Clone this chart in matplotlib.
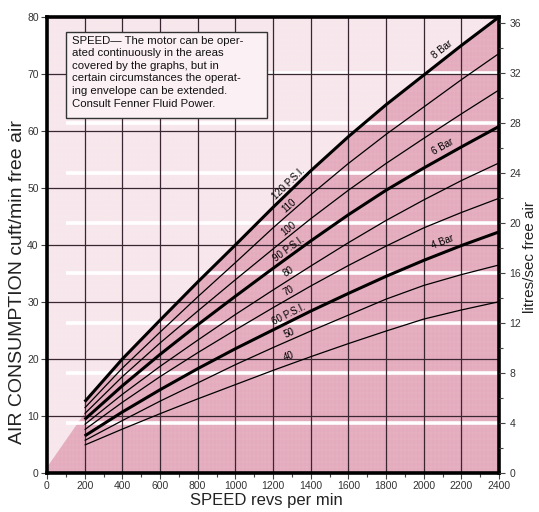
import matplotlib
matplotlib.use("Agg")
import matplotlib.pyplot as plt
from matplotlib.patches import Rectangle, Polygon
from matplotlib.ticker import MultipleLocator
import numpy as np

# ---------------- data ----------------
speed_rpm = [200, 400, 600, 800, 1000, 1200, 1400, 1600, 1800, 2000, 2200, 2400]
cfm_120psi = [12.5, 20.0, 26.8, 33.5, 40.0, 46.6, 53.0, 59.0, 64.6, 69.8, 75.0, 80.0]
cfm_110psi = [11.4, 18.4, 24.7, 30.9, 36.9, 43.0, 48.8, 54.3, 59.4, 64.2, 69.0, 73.6]
cfm_100psi = [10.4, 16.9, 22.8, 28.4, 33.9, 39.3, 44.6, 49.6, 54.3, 58.7, 63.0, 67.2]
cfm_90psi = [9.4, 15.3, 20.8, 26.0, 31.0, 35.9, 40.7, 45.3, 49.6, 53.5, 57.2, 60.8]
cfm_80psi = [8.5, 13.8, 18.7, 23.3, 27.8, 32.1, 36.3, 40.4, 44.3, 47.9, 51.3, 54.4]
cfm_70psi = [7.6, 12.4, 16.9, 21.1, 25.1, 29.0, 32.8, 36.4, 39.8, 43.0, 45.7, 48.2]
cfm_60psi = [6.5, 10.7, 14.6, 18.3, 21.8, 25.1, 28.4, 31.5, 34.5, 37.3, 39.9, 42.3]
cfm_50psi = [5.7, 9.2, 12.6, 15.8, 19.0, 22.0, 24.9, 27.7, 30.5, 32.9, 34.8, 36.5]
cfm_40psi = [4.9, 7.7, 10.4, 13.0, 15.5, 18.0, 20.4, 22.7, 24.9, 27.0, 28.6, 30.05]

psi_labels = ["120 P.S.I.", "110", "100", "90 P.S.I.", "80", "70", "60 P.S.I.", "50", "40"]
bar_labels = {"8 Bar": 0, "6 Bar": 3, "4 Bar": 6}

# operating envelope lower-left edge (rpm, cfm)
env_x = [0, 0, 200, 200]
env_y = [0, 1.0, 10.5, 12.5]

x_ticks = list(range(0, 2401, 200))
y_ticks = list(range(0, 81, 10))
ls_ticks = list(range(0, 37, 4))
white_ls = [4, 8, 12, 16, 20, 24, 28, 32]

note = ("SPEED\u2014 The motor can be oper-\n"
        "ated continuously in the areas\n"
        "covered by the graphs, but in\n"
        "certain circumstances the operat-\n"
        "ing envelope can be extended.\n"
        "Consult Fenner Fluid Power.")

# ---------------- styling ----------------
plt.rcParams['font.family'] = ['Liberation Sans', 'DejaVu Sans']
LIGHT = '#f7e6ec'
PINK = '#e3abbd'
GRID = '#3a2630'
LS_MAX = 36.48
CFM_MAX = 80.0

fig = plt.figure(figsize=(5.39, 5.12), dpi=100)
ax = fig.add_axes([47/539, 1-473/512, 452/539, 456/512])
ax.set_xlim(0, 2400)
ax.set_ylim(0, CFM_MAX)
ax.set_facecolor(LIGHT)

series = [cfm_120psi, cfm_110psi, cfm_100psi, cfm_90psi, cfm_80psi,
          cfm_70psi, cfm_60psi, cfm_50psi, cfm_40psi]

# pink envelope
poly_x = env_x + speed_rpm + [2400]
poly_y = env_y + cfm_120psi + [0]
ax.add_patch(Polygon(np.column_stack([poly_x, poly_y]), closed=True,
                     fc=PINK, ec='none', zorder=0.5))

# fine paper grid
for xv in np.arange(0, 2401, 20):
    ax.axvline(xv, color='white', lw=0.35, alpha=0.18, zorder=0.6)
for yv in np.arange(0, 81, 1):
    ax.axhline(yv, color='white', lw=0.35, alpha=0.18, zorder=0.6)

# white stripes at the litres/sec ticks
for l in white_ls:
    ax.hlines(l * CFM_MAX / LS_MAX, 100, 2400, color='white', lw=2.6, zorder=0.8)

# major grid
for xv in x_ticks[1:-1]:
    ax.axvline(xv, color=GRID, lw=0.9, zorder=1)
for yv in y_ticks[1:-1]:
    ax.axhline(yv, color=GRID, lw=0.9, zorder=1)

# curves
for i, ys in enumerate(series):
    thick = i in bar_labels.values()
    ax.plot(speed_rpm, ys, color='black', lw=2.2 if thick else 0.9,
            solid_capstyle='butt', zorder=3)

def angle_at(ys, x0):
    x1, x2 = x0 - 100, x0 + 100
    y1, y2 = np.interp([x1, x2], speed_rpm, ys)
    p1 = ax.transData.transform((x1, y1))
    p2 = ax.transData.transform((x2, y2))
    return np.degrees(np.arctan2(p2[1]-p1[1], p2[0]-p1[0]))

# PSI labels
for lab, ys in zip(psi_labels, series):
    x0 = 1285
    y0 = np.interp(x0, speed_rpm, ys)
    ax.text(x0, y0 + 1.4, lab, fontsize=7, rotation=angle_at(ys, x0),
            rotation_mode='anchor', ha='center', va='center', zorder=4)

for lab, idx in bar_labels.items():
    ys = series[idx]
    x0 = 2100
    y0 = np.interp(x0, speed_rpm, ys)
    ax.text(x0, y0 + 1.9, lab, fontsize=7, rotation=angle_at(ys, x0),
            rotation_mode='anchor', ha='center', va='center', zorder=4)

# note box
ax.add_patch(Rectangle((101, 62.3), 1067, 15.1, fc='#fbf0f4', ec='#333333',
                       lw=1.0, zorder=5))
ax.text(133, 76.7, note, fontsize=8.2, ha='left', va='top', linespacing=1.32,
        color='#111111', zorder=6)

# axes / ticks
for s in ax.spines.values():
    s.set_linewidth(2.6)
    s.set_color('black')
    s.set_zorder(7)
ax.set_xticks(x_ticks)
ax.xaxis.set_minor_locator(MultipleLocator(100))
ax.set_yticks(y_ticks)
ax.tick_params(axis='both', which='major', labelsize=7.5, length=4, width=0.8,
               color='#444444', labelcolor='#333333', direction='out', pad=2)
ax.tick_params(axis='x', which='minor', length=3, width=0.8, color='#444444')

ax2 = ax.twinx()
ax2.set_ylim(0, LS_MAX)
ax2.set_yticks(ls_ticks)
ax2.yaxis.set_minor_locator(MultipleLocator(2))
ax2.tick_params(axis='y', which='major', labelsize=7.5, length=4, width=0.8,
                color='#444444', labelcolor='#333333')
ax2.tick_params(axis='y', which='minor', length=3, width=0.8, color='#444444')
for s in ax2.spines.values():
    s.set_visible(False)

# axis titles
fig.text(266/539, 1-500/512, "SPEED revs per min", fontsize=12,
         color='#222222', ha='center', va='center')
fig.text(18/539, 1-282/512, "AIR CONSUMPTION cuft/min free air", fontsize=14,
         color='#222222', ha='center', va='center', rotation=90)
fig.text(530/539, 1-257/512, "litres/sec free air", fontsize=11,
         color='#222222', ha='center', va='center', rotation=90)

fig.savefig("out.png", dpi=100, facecolor='white')
